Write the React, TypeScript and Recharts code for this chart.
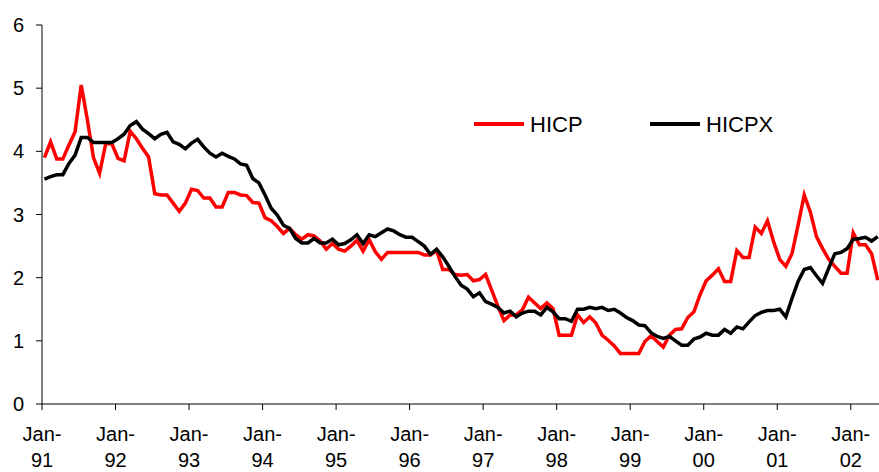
import { Line, LineChart, XAxis, YAxis } from "recharts";

// Monthly readings, Jan-91 .. May-02
const hicp = [
  3.9, 4.15, 3.88, 3.88, 4.1, 4.31, 5.05, 4.5, 3.9, 3.65, 4.12, 4.12,
  3.89, 3.85, 4.32, 4.2, 4.05, 3.91, 3.33, 3.31, 3.31, 3.18, 3.05, 3.18,
  3.4, 3.38, 3.26, 3.26, 3.12, 3.12, 3.35, 3.35, 3.31, 3.3, 3.19, 3.18,
  2.95, 2.9, 2.81, 2.7, 2.78, 2.68, 2.61, 2.68, 2.66, 2.58, 2.45, 2.54,
  2.45, 2.42, 2.5, 2.59, 2.42, 2.6, 2.41, 2.29, 2.4, 2.4, 2.4, 2.4,
  2.4, 2.4, 2.36, 2.36, 2.43, 2.13, 2.13, 2.05, 2.04, 2.05, 1.95, 1.97,
  2.05, 1.8, 1.55, 1.32, 1.41, 1.41, 1.49, 1.69, 1.6, 1.51, 1.6, 1.51,
  1.09, 1.09, 1.09, 1.41, 1.29, 1.38, 1.28, 1.09, 1.01, 0.92, 0.8, 0.8,
  0.8, 0.8, 0.99, 1.08, 0.99, 0.9, 1.09, 1.18, 1.19, 1.37, 1.46, 1.73,
  1.95, 2.04, 2.14, 1.94, 1.94, 2.43, 2.32, 2.32, 2.8, 2.7, 2.9, 2.57,
  2.29, 2.18, 2.38, 2.83, 3.31, 3.04, 2.65, 2.46, 2.29, 2.18, 2.07, 2.07,
  2.71, 2.52, 2.52, 2.38, 1.96,
];

const hicpx = [
  3.56, 3.6, 3.63, 3.63, 3.81, 3.94, 4.22, 4.22, 4.14, 4.14, 4.14, 4.14,
  4.2, 4.27, 4.41, 4.47, 4.35, 4.28, 4.2, 4.27, 4.3, 4.15, 4.11, 4.04,
  4.13, 4.19, 4.07, 3.97, 3.91, 3.97, 3.92, 3.88, 3.8, 3.78, 3.57, 3.5,
  3.31, 3.1, 2.99, 2.83, 2.78, 2.62, 2.55, 2.55, 2.62, 2.55, 2.55, 2.61,
  2.52, 2.54, 2.6, 2.68, 2.54, 2.68, 2.65, 2.71, 2.77, 2.74, 2.68, 2.64,
  2.64, 2.57, 2.5, 2.37, 2.45, 2.33, 2.18, 2.02, 1.88, 1.82, 1.7, 1.76,
  1.62, 1.58, 1.53, 1.44, 1.47, 1.38, 1.44, 1.47, 1.47, 1.41, 1.53, 1.46,
  1.35, 1.35, 1.31, 1.5, 1.5, 1.53, 1.51, 1.53, 1.48, 1.5, 1.44, 1.37,
  1.32, 1.25, 1.24, 1.13, 1.07, 1.04, 1.07, 1.0, 0.93, 0.93, 1.03, 1.06,
  1.12, 1.09, 1.09, 1.18, 1.12, 1.22, 1.19, 1.3, 1.4, 1.45, 1.48, 1.48,
  1.5, 1.38, 1.67, 1.94, 2.13, 2.16, 2.03, 1.91, 2.15, 2.38, 2.4, 2.46,
  2.61, 2.62, 2.64, 2.58, 2.65,
];

const yearLabels = ["91", "92", "93", "94", "95", "96", "97", "98", "99", "00", "01", "02"];
const yearTicks = yearLabels.map((_, i) => i * 12);
const yTicks = [0, 1, 2, 3, 4, 5, 6];

// observations are dated mid-month on a monthly time axis
const MID_MONTH = 0.4;
const data = hicp.map((v, i) => ({ t: i + MID_MONTH, hicp: v, hicpx: hicpx[i] }));

const FONT = "'Liberation Sans', Arial, sans-serif";

function YearTick(props: any) {
  const { x, y, payload } = props;
  const label = yearLabels[yearTicks.indexOf(payload.value)];
  return (
    <text x={x} y={y} textAnchor="middle" fontSize={20} fontFamily={FONT} fill="#000">
      <tspan x={x} dy={31}>Jan-</tspan>
      <tspan x={x} dy={26}>{label}</tspan>
    </text>
  );
}

// legend drawn over the plot, where the original places it
function LegendBox() {
  return (
    <svg width={330} height={40} style={{ position: "absolute", left: 470, top: 104 }}>
      <line x1={4} y1={20} x2={54} y2={20} stroke="#ff0000" strokeWidth={4} />
      <text x={60} y={28} fontSize={22} fontFamily={FONT} fill="#000">HICP</text>
      <line x1={180} y1={20} x2={230} y2={20} stroke="#000" strokeWidth={4} />
      <text x={236} y={28} fontSize={22} fontFamily={FONT} fill="#000">HICPX</text>
    </svg>
  );
}

export default function App() {
  return (
    <div
      style={{
        position: "fixed",
        left: 0,
        top: 0,
        width: 879,
        height: 472,
        overflow: "hidden",
        background: "#fff",
      }}
    >
      <LineChart
        width={900}
        height={472}
        data={data}
        margin={{ top: 25, right: 10, bottom: 0, left: 0 }}
      >
        <XAxis
          dataKey="t"
          type="number"
          domain={[0, 138.4]}
          ticks={yearTicks}
          interval={0}
          allowDataOverflow
          tick={<YearTick />}
          tickSize={6}
          tickMargin={0}
          axisLine={{ stroke: "#000", strokeWidth: 1 }}
          tickLine={{ stroke: "#000" }}
          height={68}
        />
        <YAxis
          type="number"
          domain={[0, 6]}
          ticks={yTicks}
          interval={0}
          width={42}
          tickSize={6}
          tickMargin={12}
          axisLine={{ stroke: "#000", strokeWidth: 1 }}
          tickLine={{ stroke: "#000" }}
          tick={{ fill: "#000", fontSize: 20, fontFamily: FONT }}
        />
        <Line
          dataKey="hicp"
          name="HICP"
          type="linear"
          stroke="#ff0000"
          strokeWidth={3.5}
          dot={false}
          isAnimationActive={false}
        />
        <Line
          dataKey="hicpx"
          name="HICPX"
          type="linear"
          stroke="#000"
          strokeWidth={3.5}
          dot={false}
          isAnimationActive={false}
        />
      </LineChart>
      <LegendBox />
    </div>
  );
}
